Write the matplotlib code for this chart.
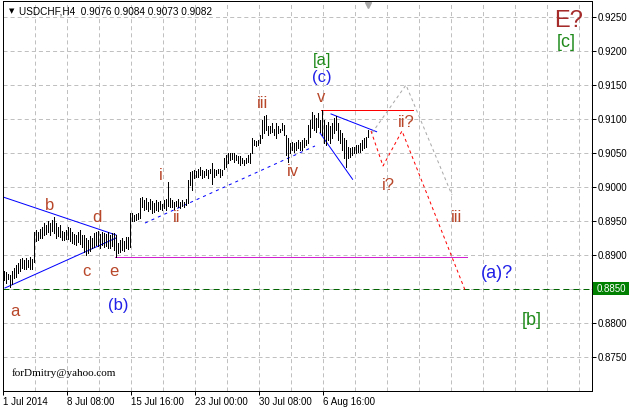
import matplotlib
matplotlib.use('Agg')
import matplotlib.pyplot as plt
import matplotlib.transforms as mtransforms
from matplotlib.patches import Rectangle
import numpy as np

plt.rcParams['lines.scale_dashes'] = False
plt.rcParams['font.family'] = ['Liberation Sans', 'DejaVu Sans']

# USDCHF H4 bars, high / low in pips (1 pip = 0.0001)
high_pips = [
    8877, 8875, 8872, 8870, 8877, 8881,
    8885, 8888, 8894, 8896, 8893, 8895, 8892, 8897, 8894,
    8934, 8937, 8934, 8938, 8941,
    8947, 8944, 8950, 8947, 8951, 8956,
    8947, 8941, 8944, 8935, 8934, 8937, 8941, 8940,
    8934, 8931, 8929, 8934, 8937, 8929,
    8930, 8925, 8922, 8928, 8925,
    8932, 8934, 8935, 8931, 8934, 8933, 8931, 8934, 8930, 8932, 8933,
    8929,
    8918, 8922, 8925, 8920, 8926, 8927,
    8962,
    8962, 8959, 8960, 8962,
    8984,
    8985, 8981, 8984, 8978, 8982, 8979, 8977, 8981, 8978, 8980, 8975,
    8981, 8983,
    9007,
    8984, 8981, 8978, 8980, 8983, 8978, 8981, 8978, 8982,
    9010,
    9022, 9023, 9025, 9024, 9027, 9030, 9025, 9023, 9027, 9025, 9027,
    9035, 9027, 9025, 9027, 9027, 9025,
    9042, 9047, 9050, 9050, 9050, 9050, 9047, 9045, 9045, 9042, 9040,
    9042, 9047, 9050,
    9072, 9069, 9067, 9069, 9077,
    9099, 9104, 9106, 9089, 9089, 9094, 9086, 9094, 9089, 9086,
    9094, 9091, 9077, 9072,
    9065, 9066, 9065, 9066, 9069, 9066, 9069, 9072, 9069,
    9091, 9099, 9110, 9106, 9101, 9109, 9099, 9113,
    9099, 9091, 9096, 9089, 9094, 9101, 9104, 9094, 9084, 9079, 9072, 9069,
    9059, 9057, 9059, 9059, 9062, 9062, 9065, 9069, 9072, 9074, 9084,
]
low_pips = [
    8863, 8859, 8864, 8853, 8858, 8866,
    8868, 8874, 8876, 8881, 8880, 8879, 8882, 8880, 8879,
    8890, 8920, 8922, 8925, 8925,
    8929, 8931, 8934, 8930, 8936, 8932,
    8925, 8928, 8926, 8922, 8922, 8924, 8923, 8921,
    8918, 8916, 8915, 8919, 8916, 8912,
    8904, 8900, 8903, 8906, 8910,
    8912, 8915, 8913, 8910, 8914, 8912, 8913, 8910, 8911, 8913, 8908,
    8897,
    8903, 8905, 8907, 8906, 8910, 8909,
    8912,
    8950, 8950, 8951, 8953,
    8955,
    8970, 8966, 8968, 8964, 8967, 8962, 8963, 8966, 8964, 8968, 8966,
    8969, 8966,
    8972,
    8970, 8971, 8968, 8972, 8970, 8969, 8972, 8970, 8973,
    8976,
    9003, 8996, 9013, 9014, 9015, 9018, 9013, 9015, 9018, 9013, 9020,
    9005, 9015, 9018, 9020, 9015, 9018,
    9027, 9030, 9035, 9040, 9041, 9037, 9040, 9035, 9032, 9035, 9032,
    9035, 9037, 9035,
    9050, 9062, 9060, 9062, 9064,
    9072, 9079, 9084, 9077, 9079, 9081, 9077, 9072, 9079, 9081,
    9084, 9077, 9047, 9037,
    9050, 9054, 9051, 9054, 9057, 9054, 9055, 9059, 9062,
    9065, 9074, 9087, 9084, 9081, 9088, 9081, 9077,
    9065, 9062, 9069, 9065, 9072, 9079, 9084, 9069, 9065, 9054, 9043, 9029,
    9043, 9044, 9047, 9050, 9050, 9051, 9051, 9054, 9057, 9059, 9073,
]

time_tick_bars = [0, 32, 64, 96, 128, 160]
time_tick_labels = ['1 Jul 2014', '8 Jul 08:00', '15 Jul 16:00',
                    '23 Jul 00:00', '30 Jul 08:00', '6 Aug 16:00']
price_ticks = [0.8750, 0.8800, 0.8850, 0.8900, 0.8950, 0.9000,
               0.9050, 0.9100, 0.9150, 0.9200, 0.9250]
current_level = 0.8850

# trend lines drawn on the chart: (bar, price) pairs
tri_upper = [(-0.5, 0.89853), (56, 0.89294)]
tri_lower = [(0.5, 0.88515), (56, 0.89250)]
e_level = [(55.5, 0.88971), (231.5, 0.88971)]
ii_iv_line = [(70.5, 0.89470), (155.5, 0.90603)]
v_level = [(158.5, 0.91132), (204.5, 0.91132)]
wedge_upper = [(163.5, 0.91074), (186.3, 0.90813)]
wedge_lower = [(158, 0.90794), (174.3, 0.90113)]
red_path = [(183.5, 0.90824), (189.5, 0.90309), (199, 0.90824),
            (230.5, 0.88485)]
gray_path = [(184, 0.90794), (201, 0.91500), (224, 0.89882)]

# wave labels: text, bar, price, colour, size
brown = '#b8472a'
green = '#1f8a1a'
blue = '#2020e8'
wave_labels = [
    ('a', 5.5, 0.88176, brown, 12), ('b', 23, 0.89735, brown, 12),
    ('c', 41, 0.88750, brown, 12), ('d', 46.5, 0.89544, brown, 12),
    ('e', 55, 0.88750, brown, 12), ('(b)', 57, 0.88250, blue, 12),
    ('i', 78.5, 0.90176, brown, 12), ('ii', 86.5, 0.89544, brown, 12),
    ('iii', 129.5, 0.91235, brown, 12), ('iv', 144.5, 0.90221, brown, 12),
    ('v', 158.5, 0.91309, brown, 12), ('(c)', 159, 0.91603, blue, 12),
    ('[a]', 159, 0.91853, green, 12), ('E?', 282.5, 0.92441, '#a52a2a', 17),
    ('[c]', 281, 0.92132, green, 13), ('i?', 192, 0.90029, brown, 12),
    ('ii?', 201, 0.90941, brown, 12), ('iii', 226.5, 0.89544, brown, 12),
    ('(a)?', 246.5, 0.88735, blue, 13), ('[b]', 264, 0.88044, green, 13),
]

W, H = 629, 409
fig = plt.figure(figsize=(W / 100, H / 100), dpi=100)
ax = fig.add_axes([3 / W, (H - 391) / H, 589 / W, 390 / H])
ax.set_xlim(-0.5, 294)
ax.set_ylim(0.8700, 0.92735)

px = 0.72  # one pixel in points
grid_kw = dict(color='#c0c0c0', linewidth=px, dashes=(2.9, 2.2), zorder=0)
for p in price_ticks:
    ax.axhline(p, **grid_kw)
for k in range(1, 19):
    ax.axvline(16 * k - 0.5, **grid_kw)

ax.axhline(current_level, color='#006400', linewidth=px,
           dashes=(4.3, 2.9), zorder=1)

idx = np.arange(len(high_pips))
highs = np.array(high_pips) / 10000
lows = np.array(low_pips) / 10000
ax.vlines(idx, lows, highs, colors='black', linewidth=px,
          antialiased=False, zorder=3)


def draw(points, **kw):
    xs, ys = zip(*points)
    ax.plot(xs, ys, linewidth=px, zorder=2, **kw)


draw(tri_upper, color='#0000ff')
draw(tri_lower, color='#0000ff')
draw(e_level, color='#d020d0')
draw(ii_iv_line, color='#0000ff', dashes=(2.2, 2.9))
draw(v_level, color='#ff0000')
draw(wedge_upper, color='#0000ff')
draw(wedge_lower, color='#0000ff')
draw(red_path, color='#ff0000', dashes=(2.2, 2.2))
draw(gray_path, color='#a8a8a8', dashes=(2.2, 2.2))

for txt, bx, py, col, size in wave_labels:
    ax.text(bx, py, txt, color=col, fontsize=size, ha='center',
            va='center', zorder=4)

# axes styling
for s in ax.spines.values():
    s.set_linewidth(px)
    s.set_color('black')
ax.yaxis.tick_right()
ax.set_yticks([p for p in price_ticks if p != current_level])
ax.set_yticklabels(['%.4f' % p for p in price_ticks if p != current_level])
ax.set_xticks([b - 0.5 for b in time_tick_bars])
ax.set_xticklabels(time_tick_labels, ha='left')
ax.tick_params(axis='both', length=3, width=px, labelsize=7, pad=1,
               color='black')

# current price marker on the right scale
trans = mtransforms.blended_transform_factory(ax.transAxes, ax.transData)
ax.add_patch(Rectangle((1 + 1 / 589, current_level - 6.5 / 6800),
                       36 / 589, 13 / 6800, transform=trans,
                       facecolor='#008000', edgecolor='none',
                       clip_on=False))
ax.text(1 + 19 / 589, current_level, '%.4f' % current_level,
        transform=trans, color='white', fontsize=7, ha='center',
        va='center', clip_on=False)

# header and watermark
ax.text(6 / 589, 1 - 10 / 390, '\u25bc', transform=ax.transAxes,
        fontsize=5, ha='left', va='center', family='DejaVu Sans')
ax.text(16 / 589, 1 - 10 / 390,
        'USDCHF,H4  0.9076 0.9084 0.9073 0.9082',
        transform=ax.transAxes, fontsize=7.2, ha='left', va='center')
ax.text(9 / 589, 18 / 390, 'forDmitry@yahoo.com', transform=ax.transAxes,
        fontsize=8, ha='left', va='center', family='Liberation Serif')
ax.plot([182], [0.92680], marker='v', markersize=5, color='#a8a8a8',
        linestyle='none', clip_on=False)

fig.savefig('out.png', dpi=100)
